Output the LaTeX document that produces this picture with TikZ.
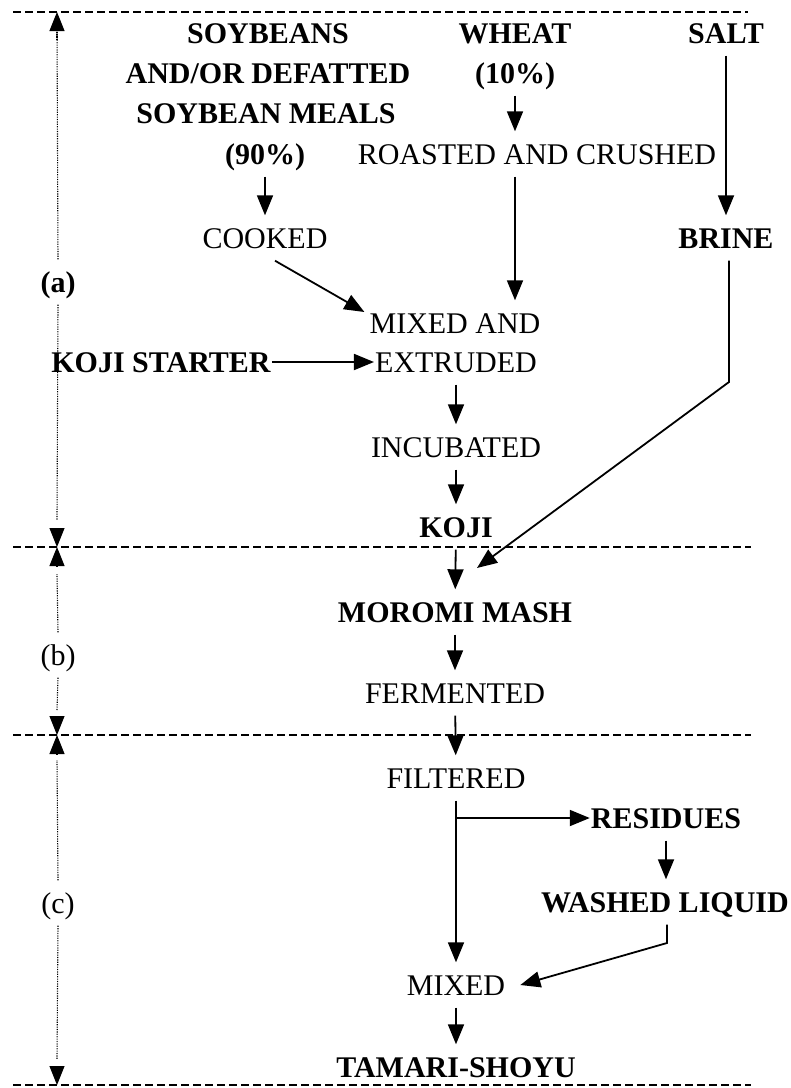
\documentclass[tikz,border=0pt]{standalone}
\usepackage{fontspec}
\setmainfont{Liberation Serif}
\usetikzlibrary{arrows.meta}
\begin{document}
\begin{tikzpicture}[x=1pt,y=-1pt,
  lbl/.style={inner xsep=1pt, inner ysep=12pt, text height=21pt, text depth=0pt,
    font=\fontsize{30}{34}\selectfont},
  blbl/.style={lbl, font=\fontsize{30}{34}\selectfont\bfseries},
  arr/.style={line width=1.8pt, -{Triangle[length=20pt,width=16pt]}},
  sep/.style={line width=1.6pt, dash pattern=on 8pt off 4pt},
  brk/.style={line width=1.1pt, dash pattern=on 1.2pt off 1.2pt, black},
  brkarr/.style={brk, -{Triangle[length=19pt,width=15pt]}}
]
\useasboundingbox (0,0) rectangle (791,1088);
% separators
\coordinate (s1a) at (13,12);  \coordinate (s1b) at (748,12);
\coordinate (s2a) at (13,547); \coordinate (s2b) at (751,547);
\coordinate (s3a) at (13,735); \coordinate (s3b) at (751,735);
\coordinate (s4a) at (13,1085);\coordinate (s4b) at (751,1085);
\draw[sep] (s1a) -- (s1b);
\draw[sep] (s2a) -- (s2b);
\draw[sep] (s3a) -- (s3b);
\draw[sep] (s4a) -- (s4b);
% stage labels
\node[blbl] (la) at (58,282) {(a)};
\node[lbl] (lb) at (58,655) {(b)};
\node[lbl] (lc) at (58,903) {(c)};
\coordinate (t1) at (57,12); \coordinate (t2) at (57,547);
\coordinate (t3) at (57,735); \coordinate (t4) at (57,1085);
\draw[brk] (la.north) -- (57,26);
\draw[brkarr] (57,40) -- (t1);
\draw[brk] (la.south) -- (57,520);
\draw[brkarr] (57,528) -- (t2);
\draw[brk] (lb.north) -- (57,574);
\draw[brkarr] (57,566) -- (t2);
\draw[brk] (lb.south) -- (57,710);
\draw[brkarr] (57,716) -- (t3);
\draw[brk] (lc.north) -- (57,760);
\draw[brkarr] (57,754) -- (t3);
\draw[brk] (lc.south) -- (57,1060);
\draw[brkarr] (57,1066) -- (t4);
% nodes
\node[blbl] (soy1) at (268,33) {SOYBEANS};
\node[blbl] (soy2) at (268,73) {AND/OR DEFATTED};
\node[blbl] (soy3) at (266,113) {SOYBEAN MEALS};
\node[blbl] (p90) at (265,154) {(90\%)};
\node[lbl] (cooked) at (265,238) {COOKED};
\node[blbl] (wheat) at (515,33) {WHEAT};
\node[blbl] (p10) at (515,73) {(10\%)};
\node[lbl] (roasted) at (537,154) {ROASTED AND CRUSHED};
\node[blbl] (salt) at (726,33) {SALT};
\node[blbl] (brine) at (726,238) {BRINE};
\node[lbl] (mixedand) at (455,323) {MIXED AND};
\node[lbl] (extruded) at (456,362) {EXTRUDED};
\node[blbl] (kojist) at (161,362) {KOJI STARTER};
\node[lbl] (incubated) at (456,447) {INCUBATED};
\node[blbl] (koji) at (456,527) {KOJI};
\node[blbl] (moromi) at (455,612) {MOROMI MASH};
\node[lbl] (fermented) at (455,693) {FERMENTED};
\node[lbl] (filtered) at (456,778) {FILTERED};
\node[blbl] (residues) at (666,818) {RESIDUES};
\node[blbl] (washed) at (665,902) {WASHED LIQUID};
\node[lbl] (mixed) at (456,985) {MIXED};
\node[blbl] (tamari) at (456,1067) {TAMARI-SHOYU};
% connectors
\draw[arr] (p90) -- (cooked);
\draw[arr] (p10) -- (p10 |- roasted.north);
\draw[arr] (roasted.south -| p10) -- (mixedand.north -| p10);
\draw[arr] (salt) -- (brine);
\coordinate (bbend) at (729,382);
\coordinate (btip) at (477,568);
\draw[arr] (brine.south -| bbend) -- (bbend) -- (btip);
\draw[arr] ([xshift=10pt]cooked.south) -- ([xshift=-4pt,yshift=11pt]mixedand.west);
\draw[arr] (kojist) -- (extruded);
\draw[arr] (extruded) -- (incubated);
\draw[arr] (incubated) -- (koji);
\draw[arr] (koji) -- (moromi);
\draw[arr] (moromi) -- (fermented);
\draw[arr] (fermented) -- (filtered);
\draw[arr] (filtered) -- (mixed);
\draw[arr] (filtered |- residues) -- (residues.west);
\draw[arr] (residues) -- (residues |- washed.north);
\coordinate (wbend) at (667,943);
\draw[arr] (washed.south -| wbend) -- (wbend) -- ([xshift=14pt]mixed.east);
\draw[arr] (mixed) -- (tamari);
\end{tikzpicture}
\end{document}
